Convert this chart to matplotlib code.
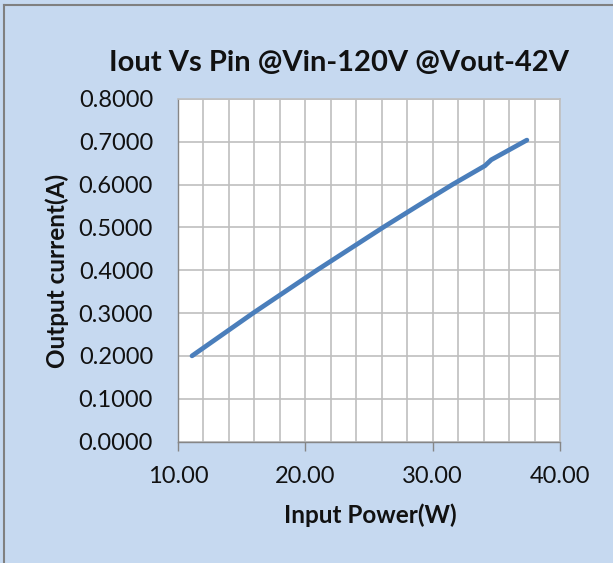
import matplotlib
matplotlib.use("Agg")
import matplotlib.pyplot as plt
from matplotlib.lines import Line2D
from matplotlib.ticker import MultipleLocator, FormatStrFormatter

input_power = [11.1, 13.5, 15.9, 18.4, 20.9, 23.5, 26.1, 28.8, 31.6, 34.1, 34.6, 37.4]
output_current = [0.200, 0.250, 0.300, 0.350, 0.400, 0.450, 0.500, 0.550, 0.601, 0.644, 0.658, 0.704]

title = "Iout Vs Pin @Vin-120V @Vout-42V"
xlabel = "Input Power(W)"
ylabel = "Output current(A)"

plt.rcParams['font.family'] = ['Lato', 'DejaVu Sans']
bg = "#c6d9f0"
fig = plt.figure(figsize=(6.13, 5.63), dpi=100, facecolor=bg)
ax = fig.add_axes([178/613, 1-441.5/563, (560-178)/613, (441.5-99)/563])
ax.set_facecolor("white")

ax.plot(input_power, output_current, color="#4a7ebb", lw=3.4, solid_capstyle="round", zorder=3)

ax.set_xlim(10, 40)
ax.set_ylim(0, 0.8)
ax.xaxis.set_major_locator(MultipleLocator(10))
ax.xaxis.set_minor_locator(MultipleLocator(2))
ax.yaxis.set_major_locator(MultipleLocator(0.1))
ax.xaxis.set_major_formatter(FormatStrFormatter("%.2f"))
ax.yaxis.set_major_formatter(FormatStrFormatter("%.4f"))
ax.grid(True, which="major", axis="y", color="#bfbfbf", lw=1.2)
ax.grid(True, which="both", axis="x", color="#bfbfbf", lw=1.2)
ax.tick_params(axis="x", which="major", length=6.5, color="#868686", width=1, labelsize=17, pad=11, labelcolor="#111111")
ax.tick_params(axis="x", which="minor", length=0)
ax.tick_params(axis="y", length=0, labelsize=17, pad=18, labelcolor="#111111")
for s in ["top", "right"]:
    ax.spines[s].set_color("#bfbfbf")
    ax.spines[s].set_linewidth(1.2)
for s in ["left", "bottom"]:
    ax.spines[s].set_color("#868686")
    ax.spines[s].set_linewidth(1.0)
ax.set_axisbelow(True)

fig.text(339/613, 1-63/563, title, ha="center", va="center", fontsize=21, fontweight="bold", color="#111111")
fig.text(370/613, 1-515/563, xlabel, ha="center", va="center", fontsize=17.5, fontweight="bold", color="#111111")
fig.text(57/613, 1-271/563, ylabel, ha="center", va="center", rotation=90, fontsize=17.5, fontweight="bold", color="#111111")

fig.add_artist(Line2D([4/613, 4/613], [0, 1-5/563], transform=fig.transFigure, color="#808080", lw=1.5))
fig.add_artist(Line2D([4/613, 1], [1-5/563, 1-5/563], transform=fig.transFigure, color="#808080", lw=1.5))

fig.savefig("out.png", dpi=100, facecolor=bg)
